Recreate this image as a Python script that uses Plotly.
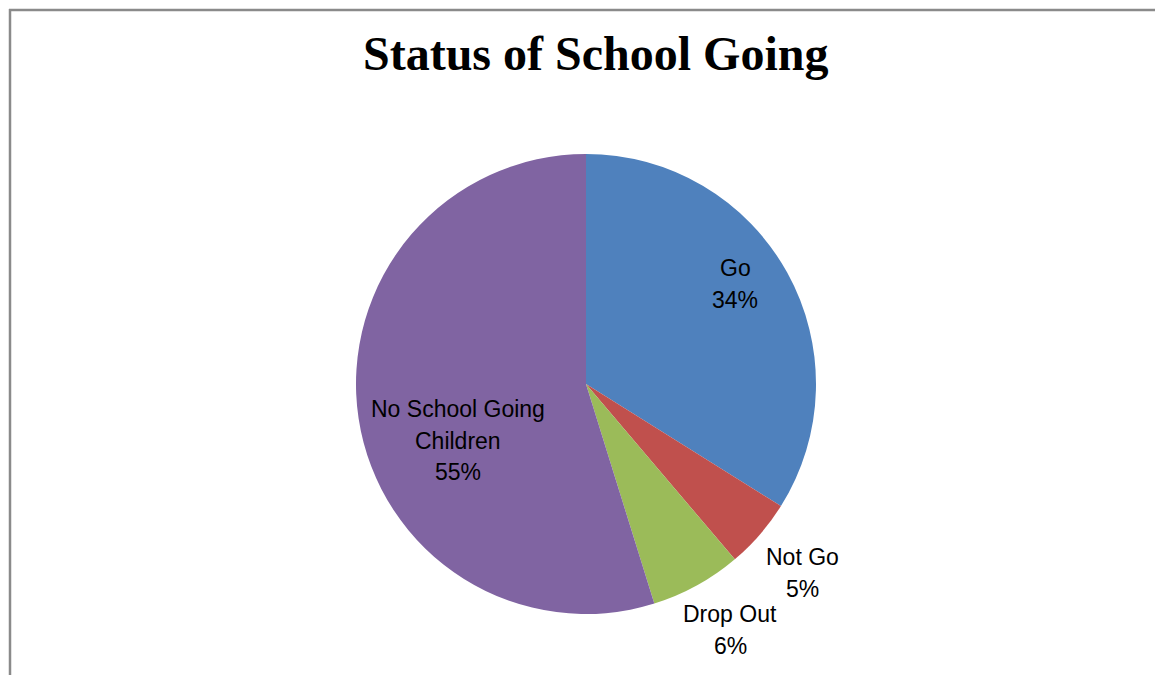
import plotly.graph_objects as go

W, H = 1155, 675

categories = ["Go", "Not Go", "Drop Out", "No School Going Children"]
values = [33.9, 4.9, 6.4, 54.8]
colors = ["#4F81BD", "#C0504D", "#9BBB59", "#8064A2"]
title_text = "Status of School Going"

# label layout: (center x px, first-line center y px, label lines)
label_pos = [
    (735, 268, ["Go"]),
    (802, 557, ["Not Go"]),
    (730, 614, ["Drop Out"]),
    (458, 409, ["No School Going", "Children"]),
]

def px(x):
    return x / W

def py(y):
    return 1 - y / H

total = sum(values)
fig = go.Figure()
fig.add_trace(go.Pie(
    labels=categories,
    values=values,
    marker=dict(colors=colors, line=dict(width=0)),
    sort=False,
    direction="clockwise",
    rotation=0,
    textinfo="none",
    hoverinfo="label+percent",
    showlegend=False,
    domain=dict(x=[px(356), px(816)], y=[py(614), py(154)]),
))

annotations = []
line_gap = 31.5
for (cx, cy, lines), v in zip(label_pos, values):
    pct = f"{round(v / total * 100):.0f}%"
    all_lines = lines + [pct]
    for i, t in enumerate(all_lines):
        annotations.append(dict(
            x=px(cx), y=py(cy + i * line_gap), xref="paper", yref="paper",
            text=t, showarrow=False, xanchor="center", yanchor="middle",
            font=dict(family="Liberation Sans", size=23, color="#000000"),
        ))

annotations.append(dict(
    x=px(595.5), y=py(53), xref="paper", yref="paper", text="<b>" + title_text + "</b>",
    showarrow=False, xanchor="center", yanchor="middle",
    font=dict(family="Liberation Serif", size=48, color="#000000"),
))

shapes = [
    dict(type="line", xref="paper", yref="paper", x0=px(9), x1=1.0, y0=py(10), y1=py(10),
         line=dict(color="#8A8A8A", width=2.5)),
    dict(type="line", xref="paper", yref="paper", x0=px(10), x1=px(10), y0=py(9), y1=0,
         line=dict(color="#8A8A8A", width=2.5)),
]

fig.update_layout(
    width=W, height=H,
    margin=dict(l=0, r=0, t=0, b=0),
    paper_bgcolor="white", plot_bgcolor="white",
    annotations=annotations, shapes=shapes,
)

fig.write_html("out.html", config={"displayModeBar": False},
               post_script="document.body.style.margin='0px';")
